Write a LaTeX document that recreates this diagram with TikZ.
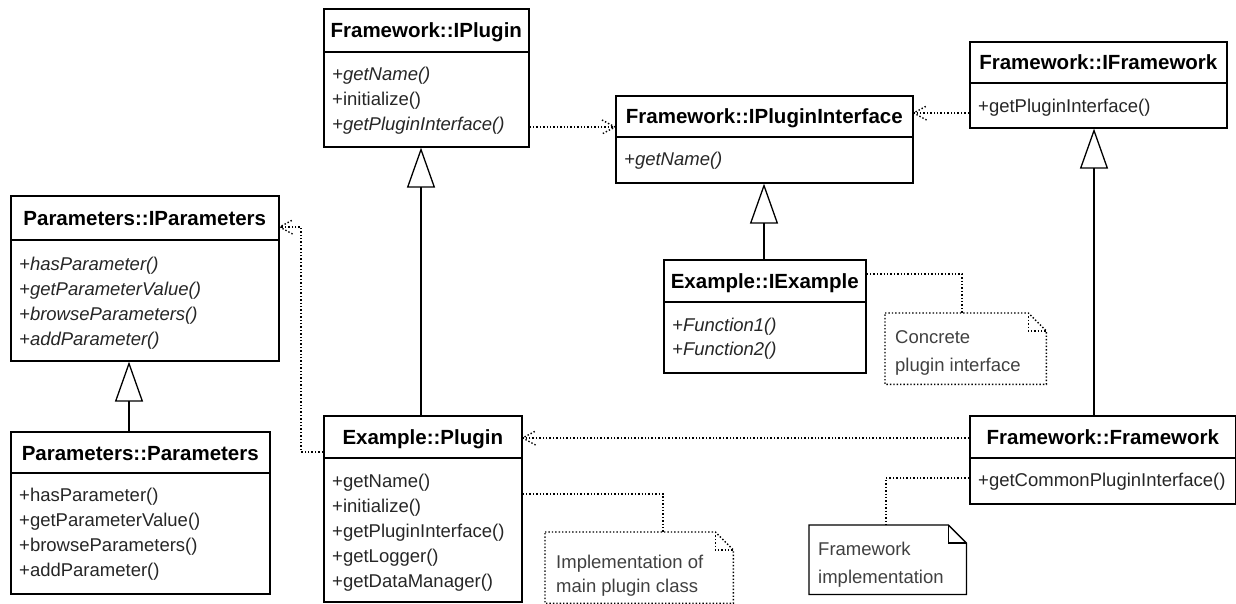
\documentclass[tikz,border=0pt]{standalone}
\usepackage{fontspec}
\setmainfont{Liberation Sans}
\usetikzlibrary{arrows.meta,calc}
\tikzset{
  cls/.style={draw, line width=1.6pt, anchor=north west, inner sep=0pt},
  ttl/.style={font=\bfseries\fontsize{20.5}{24}\selectfont, anchor=base, inner sep=0pt},
  op/.style={font=\fontsize{18.5}{22}\selectfont, anchor=base west, inner sep=0pt, text=black!85},
  abs/.style={font=\itshape\fontsize{18.5}{22}\selectfont, anchor=base west, inner sep=0pt, text=black!85},
  ntxt/.style={font=\fontsize{18.5}{22}\selectfont, anchor=base west, inner sep=0pt, text=black!75},
  gen/.style={line width=1.3pt, -{Triangle[open,length=40pt,width=28pt,line width=1.3pt]}},
  dep/.style={dotted, line width=1.4pt},
  nbox/.style={anchor=north west, inner sep=0pt},
  divl/.style={line width=1.6pt},
  vhead/.pic={\draw[dep] (-13,-7) -- (0,0) -- (-13,7);}
}
\newcommand{\umlcls}[7]{%
  \node[cls, minimum width=#4pt, minimum height=#5pt] (#1) at (#2,#3) {};
  \draw[divl] ($(#1.north west)+(0,#6)$) -- ($(#1.north east)+(0,#6)$);
  \node[ttl] (#1-t) at ($(#1.north)+(0,{#6/2+8})$) {#7};
}
\newcommand{\umlnote}[6]{%
  \node[nbox, minimum width=#4pt, minimum height=#5pt] (#1) at (#2,#3) {};
  \draw[#6] (#1.north west) -- ($(#1.north east)+(-18,0)$) -- ($(#1.north east)+(0,18)$)
     -- (#1.south east) -- (#1.south west) -- cycle;
  \draw[#6] ($(#1.north east)+(-18,0)$) -- ($(#1.north east)+(-18,18)$) -- ($(#1.north east)+(0,18)$);
}
\begin{document}
\begin{tikzpicture}[x=1pt,y=-1pt]
\useasboundingbox (0,0) rectangle (1236,604);

% classes
\umlcls{iplugin}{323}{8}{205}{138}{44}{Framework::IPlugin}
\node[abs] (iplugin-1) at (332,81) {+getName()};
\node[op]  (iplugin-2) at (332,106) {+initialize()};
\node[abs] (iplugin-3) at (332,131) {+getPluginInterface()};

\umlcls{ipi}{615}{95}{297}{87}{42}{Framework::IPluginInterface}
\node[abs] (ipi-1) at (624,166) {+getName()};

\umlcls{ifw}{969}{41}{257}{86}{42}{Framework::IFramework}
\node[op] (ifw-1) at (978,113) {+getPluginInterface()};

\umlcls{ipar}{10}{195}{268}{165}{45}{Parameters::IParameters}
\node[abs] (ipar-1) at (19,270) {+hasParameter()};
\node[abs] (ipar-2) at (19,295) {+getParameterValue()};
\node[abs] (ipar-3) at (19,320) {+browseParameters()};
\node[abs] (ipar-4) at (19,345) {+addParameter()};

\umlcls{par}{10}{431}{259}{162}{42}{Parameters::Parameters}
\node[op] (par-1) at (19,501) {+hasParameter()};
\node[op] (par-2) at (19,526) {+getParameterValue()};
\node[op] (par-3) at (19,551) {+browseParameters()};
\node[op] (par-4) at (19,576) {+addParameter()};

\umlcls{plugin}{323}{415}{198}{186}{43}{Example::Plugin}
\node[op] (plugin-1) at (332,487) {+getName()};
\node[op] (plugin-2) at (332,512) {+initialize()};
\node[op] (plugin-3) at (332,537) {+getPluginInterface()};
\node[op] (plugin-4) at (332,562) {+getLogger()};
\node[op] (plugin-5) at (332,587) {+getDataManager()};

\umlcls{iex}{663}{259}{202}{113}{43}{Example::IExample}
\node[abs] (iex-1) at (672,331) {+Function1()};
\node[abs] (iex-2) at (672,355) {+Function2()};

\umlcls{fw}{969}{415}{266}{88}{43}{Framework::Framework}
\node[op] (fw-1) at (978,486) {+getCommonPluginInterface()};

% notes
\umlnote{n1}{885}{313}{161}{71}{dep}
\node[ntxt] (n1-a) at (895,343) {Concrete};
\node[ntxt] (n1-b) at (895,371) {plugin interface};

\umlnote{n2}{545}{532}{188}{71}{dep}
\node[ntxt] (n2-a) at (556,568) {Implementation of};
\node[ntxt] (n2-b) at (556,592) {main plugin class};

\umlnote{n3}{809}{525}{157}{69}{line width=1.3pt}
\node[ntxt] (n3-a) at (818,555) {Framework};
\node[ntxt] (n3-b) at (818,583) {implementation};

% generalizations
\path (plugin.north west) ++(98,0) coordinate (g1);
\draw[gen] (g1) -- (g1 |- iplugin.south);
\path (iex.north west) ++(101,0) coordinate (g2);
\draw[gen] (g2) -- (g2 |- ipi.south);
\path (fw.north west) ++(125,0) coordinate (g3);
\draw[gen] (g3) -- (g3 |- ifw.south);
\path (par.north west) ++(119,0) coordinate (g4);
\draw[gen] (g4) -- (g4 |- ipar.south);

% dependencies
\draw[dep] ($(iplugin.north east)+(0,119)$) -- ($(ipi.north west)+(0,32)$);
\pic at ($(ipi.north west)+(0,32)$) {vhead};
\draw[dep] ($(ifw.north west)+(0,72)$) -- ($(ipi.north east)+(0,18)$);
\pic[rotate=180] at ($(ipi.north east)+(0,18)$) {vhead};
\draw[dep] ($(fw.north west)+(0,23)$) -- ($(plugin.north east)+(0,23)$);
\pic[rotate=180] at ($(plugin.north east)+(0,23)$) {vhead};
\draw[dep] ($(plugin.north west)+(0,37)$) -- ++(-22,0) |- ($(ipar.north east)+(0,32)$);
\pic[rotate=180] at ($(ipar.north east)+(0,32)$) {vhead};

% note links
\draw[dep] ($(iex.north east)+(0,15)$) -| ($(n1.north west)+(77,0)$);
\draw[dep] ($(plugin.north east)+(0,79)$) -| ($(n2.north west)+(118,0)$);
\draw[dep] ($(fw.north west)+(0,63)$) -| ($(n3.north west)+(77,0)$);
\end{tikzpicture}
\end{document}
